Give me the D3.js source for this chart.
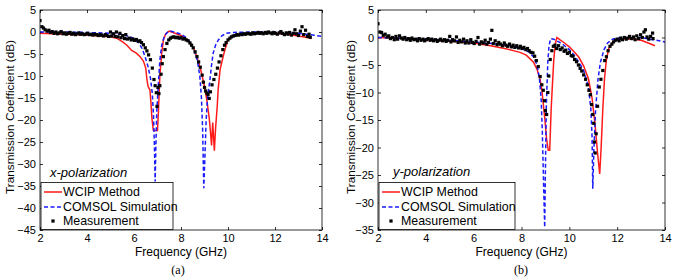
<!DOCTYPE html>
<html>
<head>
<meta charset="utf-8">
<script src="https://cdn.jsdelivr.net/npm/d3@7"></script>
<style>
  body { margin: 0; background: #fff; }
  svg { display: block; font-family: "Liberation Sans", Arial, sans-serif; }
  .tick text { font-size: 11px; fill: #000; }
</style>
</head>
<body>
<script>
// ---- data: [frequency GHz, dB] ----
const xTicks = [2, 4, 6, 8, 10, 12, 14];

const wcipX = [[2.0,-0.3],[3.0,-0.5],[4.0,-0.7],[4.5,-0.9],[5.0,-1.1],[5.3,-1.5],[5.5,-2.2],[5.7,-3.0],[5.9,-4.2],[6.1,-4.8],[6.26,-5.6],[6.4,-6.6],[6.5,-8.2],[6.55,-10.8],[6.6,-12.4],[6.68,-13.2],[6.72,-16],[6.76,-19.5],[6.82,-22.3],[6.9,-22.4],[7.0,-22.4],[7.04,-18],[7.1,-10],[7.18,-4.8],[7.25,-1.8],[7.35,-0.4],[7.5,0.2],[7.6,0.0],[7.8,-0.4],[8.0,-0.8],[8.2,-1.5],[8.4,-2.5],[8.55,-3.8],[8.7,-6.0],[8.85,-8.8],[9.0,-12.4],[9.1,-15.5],[9.2,-19.5],[9.25,-22.5],[9.3,-25.8],[9.35,-20.6],[9.42,-27],[9.47,-22],[9.54,-17],[9.58,-13.2],[9.66,-8.6],[9.8,-5.4],[9.9,-3.5],[10.0,-1.8],[10.2,-1.0],[10.5,-0.6],[11,-0.3],[12,-0.3],[12.5,-0.5],[13.0,-0.9],[13.3,-1.2],[13.55,-1.5]];

const comsolX = [[2.0,0.0],[3,0],[4,-0.1],[5,-0.3],[5.5,-0.6],[5.8,-1.0],[6.0,-1.5],[6.2,-2.5],[6.35,-3.8],[6.47,-5.6],[6.6,-7.9],[6.7,-10.5],[6.78,-14],[6.83,-19],[6.87,-26],[6.9,-34],[6.93,-26],[6.97,-18],[7.03,-12.4],[7.1,-6.4],[7.18,-3.0],[7.3,-0.8],[7.45,0.1],[7.55,0.2],[7.7,0.0],[8.0,-0.5],[8.2,-1.2],[8.4,-2.4],[8.55,-4.0],[8.7,-6.5],[8.8,-10],[8.87,-15],[8.92,-22],[8.97,-35.5],[9.02,-28],[9.07,-20],[9.13,-15],[9.23,-10.9],[9.3,-7.5],[9.37,-4.8],[9.47,-3.0],[9.59,-1.8],[9.75,-0.8],[9.94,-0.3],[10.2,-0.1],[11,0.0],[12,0.0],[13,-0.3],[13.5,-0.6],[14,-1.0]];

const measX = [[2.0,2.6],[2.08,1.2],[2.15,0.9],[2.22,0.5],[2.3,0.2],[2.38,0.4],[2.45,-0.1],[2.52,0.1],[2.6,-0.3],[2.68,0.0],[2.75,-0.4],[2.82,-0.2],[2.9,0.1],[2.98,-0.4],[3.05,-0.2],[3.12,-0.5],[3.2,-0.3],[3.28,-0.1],[3.35,-0.5],[3.42,-0.3],[3.5,-0.6],[3.58,-0.4],[3.65,-0.2],[3.72,-0.5],[3.8,-0.4],[3.88,-0.6],[3.95,-0.5],[4.02,-0.3],[4.1,-0.6],[4.18,-0.5],[4.25,-0.7],[4.32,-0.5],[4.4,-0.6],[4.48,-0.8],[4.55,-0.6],[4.62,-0.7],[4.7,-0.9],[4.78,-0.6],[4.85,-0.8],[4.92,-1.0],[5.0,0.0],[5.05,-0.9],[5.12,-0.4],[5.2,-1.0],[5.25,0.0],[5.32,-1.1],[5.4,-0.3],[5.45,-1.3],[5.52,-0.8],[5.6,-1.5],[5.65,-0.6],[5.72,-1.6],[5.8,-1.4],[5.88,-1.8],[5.95,-1.6],[6.02,-1.9],[6.1,-1.7],[6.18,-2.1],[6.25,-2.0],[6.32,-2.4],[6.4,-2.9],[6.48,-3.6],[6.55,-4.3],[6.62,-5.2],[6.7,-6.3],[6.78,-8.2],[6.85,-10.8],[6.9,-12.2],[6.95,-13.8],[6.98,-16.9],[7.02,-12.6],[7.06,-14.0],[7.1,-12.2],[7.15,-9.6],[7.2,-7.2],[7.25,-5.6],[7.32,-4.0],[7.4,-2.6],[7.48,-1.8],[7.55,-1.4],[7.62,-1.2],[7.7,-1.1],[7.78,-1.3],[7.85,-1.2],[7.92,-1.4],[8.0,-1.3],[8.08,-1.6],[8.15,-1.5],[8.22,-1.8],[8.3,-2.0],[8.38,-2.5],[8.45,-3.0],[8.52,-3.6],[8.6,-4.5],[8.68,-5.6],[8.75,-6.8],[8.82,-8.0],[8.9,-9.8],[8.95,-11.4],[9.0,-12.6],[9.05,-13.4],[9.1,-13.9],[9.15,-14.2],[9.2,-15.1],[9.25,-13.6],[9.32,-12.0],[9.4,-10.8],[9.48,-9.6],[9.55,-8.2],[9.62,-6.8],[9.7,-5.4],[9.78,-4.0],[9.85,-3.0],[9.92,-2.4],[10.0,-1.8],[10.08,-1.4],[10.15,-1.1],[10.22,-0.9],[10.3,-0.8],[10.38,-0.6],[10.45,-0.7],[10.52,-0.5],[10.6,-0.6],[10.68,-0.4],[10.75,-0.5],[10.82,-0.3],[10.9,-0.4],[10.98,-0.5],[11.05,-0.2],[11.12,-0.4],[11.2,-0.3],[11.28,-0.1],[11.35,-0.3],[11.42,-0.2],[11.5,-0.4],[11.58,-0.1],[11.65,-0.3],[11.72,0.0],[11.8,-0.2],[11.88,-0.4],[11.95,-0.1],[12.02,-0.3],[12.1,-0.5],[12.18,-0.2],[12.25,0.1],[12.32,-0.3],[12.4,-0.6],[12.48,-0.2],[12.55,-0.5],[12.62,-0.1],[12.7,-0.7],[12.78,-0.3],[12.85,0.5],[12.92,-0.4],[13.0,-0.8],[13.08,0.2],[13.15,1.2],[13.22,-0.6],[13.3,0.4],[13.38,-1.0],[13.45,-0.5],[13.5,-1.2]];

const wcipY = [[2,0],[3,-0.2],[4,-0.4],[5,-0.7],[6,-1.0],[6.7,-1.5],[7.3,-2.0],[7.94,-2.7],[8.2,-3.2],[8.5,-4.5],[8.65,-5.8],[8.78,-7.7],[8.85,-9.5],[8.91,-12],[8.98,-15],[9.05,-18.5],[9.12,-20.5],[9.18,-20.5],[9.24,-13],[9.3,-8],[9.35,-4],[9.42,-1],[9.48,0.0],[9.6,-0.4],[9.8,-1.0],[10.0,-1.7],[10.2,-2.6],[10.4,-3.6],[10.6,-5.2],[10.8,-7.5],[10.95,-11],[11.08,-16],[11.18,-21],[11.27,-24.8],[11.33,-20],[11.4,-13],[11.47,-7.5],[11.55,-4],[11.65,-2],[11.8,-0.9],[12.0,-0.4],[12.5,-0.2],[13.0,-0.5],[13.3,-1.0],[13.58,-1.5]];

const comsolY = [[2,0],[3,-0.1],[4,-0.3],[5,-0.5],[6,-0.8],[7,-1.2],[7.5,-1.5],[8,-2.0],[8.3,-2.6],[8.5,-3.5],[8.65,-5.0],[8.75,-7.5],[8.82,-11],[8.87,-17],[8.92,-26],[8.97,-34.5],[9.0,-24],[9.04,-12],[9.1,-4.5],[9.15,-1.5],[9.22,-0.2],[9.35,-0.3],[9.6,-0.9],[9.8,-1.5],[10.0,-2.2],[10.2,-3.2],[10.4,-4.5],[10.6,-6.0],[10.8,-9],[10.9,-13],[10.95,-18],[10.98,-27.5],[11.03,-20],[11.1,-13],[11.2,-7.5],[11.3,-4.5],[11.45,-2.2],[11.6,-1.0],[11.8,-0.3],[12,-0.1],[13,0],[13.5,-0.4],[14,-0.8]];

const measY = [[2.0,2.5],[2.08,1.0],[2.15,0.9],[2.22,0.4],[2.3,0.6],[2.38,0.1],[2.45,0.3],[2.52,-0.2],[2.6,0.0],[2.68,-0.4],[2.75,0.2],[2.82,-0.3],[2.9,0.3],[2.98,-0.1],[3.05,-0.3],[3.12,0.0],[3.2,-0.4],[3.28,-0.2],[3.35,-0.5],[3.42,-0.1],[3.5,-0.4],[3.58,-0.3],[3.65,-0.6],[3.72,-0.2],[3.8,-0.5],[3.88,-0.3],[3.95,-0.6],[4.02,-0.4],[4.1,-0.2],[4.18,-0.5],[4.25,-0.3],[4.32,-0.6],[4.4,-0.4],[4.48,-0.7],[4.55,-0.5],[4.62,-0.3],[4.7,-0.6],[4.78,-0.4],[4.85,-0.7],[4.92,-0.5],[5.0,0.2],[5.05,-0.8],[5.12,-0.4],[5.2,-0.6],[5.28,0.1],[5.35,-0.9],[5.42,-0.5],[5.5,-0.8],[5.58,-0.3],[5.65,-1.0],[5.72,-0.6],[5.8,-1.0],[5.88,-0.4],[5.95,-0.9],[6.02,-1.1],[6.1,-0.7],[6.18,0.0],[6.25,-1.2],[6.32,-0.8],[6.4,-1.0],[6.48,-0.5],[6.55,-1.2],[6.62,-0.9],[6.7,-0.3],[6.76,1.3],[6.82,-1.1],[6.9,-0.6],[6.98,-1.3],[7.05,-0.9],[7.12,-1.2],[7.2,-1.5],[7.28,-1.0],[7.35,-1.4],[7.42,-1.6],[7.5,-1.2],[7.58,-1.7],[7.65,-1.4],[7.72,-1.8],[7.8,-1.5],[7.88,-1.9],[7.95,-1.6],[8.02,-2.0],[8.1,-1.8],[8.18,-2.2],[8.25,-2.0],[8.32,-2.4],[8.4,-2.7],[8.48,-2.8],[8.55,-3.4],[8.62,-4.2],[8.7,-5.3],[8.78,-7.1],[8.85,-8.6],[8.91,-9.6],[8.96,-11.5],[9.0,-13.3],[9.05,-14.0],[9.1,-10.0],[9.14,-7.0],[9.2,-4.0],[9.27,-2.4],[9.33,-1.6],[9.4,-1.4],[9.47,-2.0],[9.55,-1.5],[9.62,-2.2],[9.7,-1.9],[9.78,-2.5],[9.85,-2.3],[9.92,-2.9],[10.0,-2.7],[10.08,-3.3],[10.15,-3.4],[10.22,-4.0],[10.3,-4.4],[10.38,-5.0],[10.45,-5.6],[10.52,-6.1],[10.6,-6.8],[10.68,-7.6],[10.75,-8.6],[10.82,-9.6],[10.88,-10.4],[10.93,-12.2],[10.98,-14.0],[11.02,-15.6],[11.05,-19.0],[11.08,-21.0],[11.12,-17.5],[11.18,-12.5],[11.25,-9.0],[11.32,-7.6],[11.4,-6.0],[11.48,-4.2],[11.55,-3.5],[11.62,-2.4],[11.7,-1.6],[11.78,-1.2],[11.85,-0.8],[11.92,-0.5],[12.0,-0.3],[12.08,-0.6],[12.15,-0.1],[12.22,-0.4],[12.3,0.0],[12.38,-0.3],[12.45,-0.1],[12.52,0.2],[12.6,-0.2],[12.68,0.1],[12.75,-0.4],[12.82,0.3],[12.9,-0.2],[12.98,0.5],[13.05,0.0],[13.12,1.0],[13.18,1.4],[13.25,0.1],[13.32,-0.3],[13.4,0.2],[13.48,0.8],[13.5,-0.2]];

const legendLabels = ["WCIP Method", "COMSOL Simulation", "Measurement"];

const panels = [
  { id: "a", left: 40, right: 322, yMin: -45, yTicks: d3.range(-45, 6, 5),
    wcip: wcipX, comsol: comsolX, meas: measX, pol: "x-polarization",
    ylabX: 14, legendW: 132, polX: 50 },
  { id: "b", left: 378, right: 665, yMin: -35, yTicks: d3.range(-35, 6, 5),
    wcip: wcipY, comsol: comsolY, meas: measY, pol: "y-polarization",
    ylabX: 355, legendW: 136, polX: 393 }
];

const W = 675, H = 278, TOP = 10, BOTTOM = 230;

var svg = d3.select("body").append("svg").attr("width", W).attr("height", H);

panels.forEach(function (p) {
  var x = d3.scaleLinear().domain([2, 14]).range([p.left, p.right]);
  var y = d3.scaleLinear().domain([p.yMin, 5]).range([BOTTOM, TOP]);

  var g = svg.append("g");

  g.append("clipPath").attr("id", "clip-" + p.id)
    .append("rect")
    .attr("x", p.left).attr("y", TOP)
    .attr("width", p.right - p.left).attr("height", BOTTOM - TOP);

  // axes (MATLAB style: ticks inside, on all four sides)
  g.append("g").attr("transform", `translate(0,${BOTTOM})`)
    .call(d3.axisBottom(x).tickValues(xTicks).tickSizeInner(-3).tickSizeOuter(0).tickPadding(4))
    .call(a => a.select(".domain").remove());
  g.append("g").attr("transform", `translate(0,${TOP})`)
    .call(d3.axisTop(x).tickValues(xTicks).tickSizeInner(-3).tickSizeOuter(0).tickFormat(""))
    .call(a => a.select(".domain").remove());
  g.append("g").attr("transform", `translate(${p.left},0)`)
    .call(d3.axisLeft(y).tickValues(p.yTicks).tickSizeInner(-3).tickSizeOuter(0).tickPadding(4))
    .call(a => a.select(".domain").remove());
  g.append("g").attr("transform", `translate(${p.right},0)`)
    .call(d3.axisRight(y).tickValues(p.yTicks).tickSizeInner(-3).tickSizeOuter(0).tickFormat(""))
    .call(a => a.select(".domain").remove());

  g.selectAll(".tick line").attr("stroke", "#000").attr("stroke-width", 0.8);

  var plot = g.append("g").attr("clip-path", `url(#clip-${p.id})`);

  var line = d3.line().x(d => x(d[0])).y(d => y(d[1]));

  plot.append("path").datum(p.wcip)
    .attr("d", line).attr("fill", "none")
    .attr("stroke", "#ff1a1a").attr("stroke-width", 1.5);

  plot.append("path").datum(p.comsol)
    .attr("d", line).attr("fill", "none")
    .attr("stroke", "#1a1aff").attr("stroke-width", 1.5)
    .attr("stroke-dasharray", "4,2.5");

  plot.selectAll(".meas").data(p.meas).enter()
    .append("rect").attr("class", "meas")
    .attr("x", d => x(d[0]) - 1.6).attr("y", d => y(d[1]) - 1.6)
    .attr("width", 3.2).attr("height", 3.2).attr("fill", "#000");

  // box
  g.append("rect")
    .attr("x", p.left).attr("y", TOP)
    .attr("width", p.right - p.left).attr("height", BOTTOM - TOP)
    .attr("fill", "none").attr("stroke", "#000").attr("stroke-width", 0.8);

  // polarization note
  g.append("text")
    .attr("x", p.polX).attr("y", p.id === "a" ? 177 : 176)
    .attr("font-size", 13).attr("font-style", "italic")
    .text(p.pol);

  // legend
  var lg = g.append("g").attr("transform", `translate(${p.left + 1},182.5)`);
  lg.append("rect").attr("width", p.legendW).attr("height", BOTTOM - 182.5 - 0.5)
    .attr("fill", "#fff").attr("stroke", "#000").attr("stroke-width", 0.8);
  var rowY = [9.5, 24.5, 38.5];
  lg.append("line").attr("x1", 3).attr("x2", 21).attr("y1", rowY[0]).attr("y2", rowY[0])
    .attr("stroke", "#ff1a1a").attr("stroke-width", 1.5);
  lg.append("line").attr("x1", 3).attr("x2", 21).attr("y1", rowY[1]).attr("y2", rowY[1])
    .attr("stroke", "#1a1aff").attr("stroke-width", 1.5).attr("stroke-dasharray", "4,2.5");
  lg.append("rect").attr("x", 10.4).attr("y", rowY[2] - 1.6).attr("width", 3.2).attr("height", 3.2)
    .attr("fill", "#000");
  lg.selectAll(".lab").data(legendLabels).enter()
    .append("text").attr("class", "lab")
    .attr("x", 22).attr("y", (d, i) => rowY[i])
    .attr("dy", "0.36em").attr("font-size", 12.4)
    .text(d => d);

  // axis titles
  g.append("text")
    .attr("x", (p.left + p.right) / 2).attr("y", 256)
    .attr("text-anchor", "middle").attr("font-size", 12)
    .text("Frequency (GHz)");
  g.append("text")
    .attr("transform", `translate(${p.ylabX},117) rotate(-90)`)
    .attr("text-anchor", "middle").attr("font-size", 11.8)
    .text("Transmission Coefficient (dB)");

  g.append("text")
    .attr("x", p.id === "a" ? 178 : 521).attr("y", 274)
    .attr("text-anchor", "middle").attr("font-size", 12)
    .attr("font-family", "'Liberation Serif', 'Times New Roman', serif")
    .text(`(${p.id})`);
});
</script>
</body>
</html>
